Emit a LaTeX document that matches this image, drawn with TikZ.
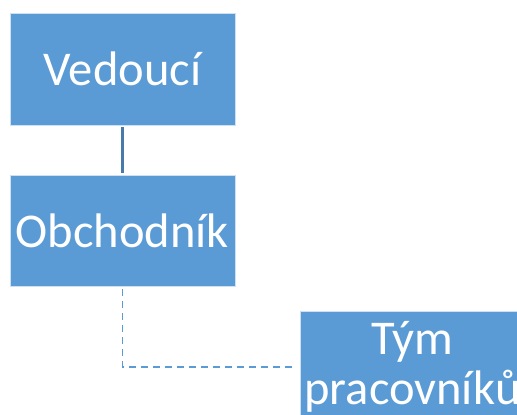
\documentclass[tikz,border=0pt]{standalone}
\usepackage{fontspec}
\setmainfont{Carlito}
\begin{document}
\begin{tikzpicture}[x=1pt,y=1pt,
  orgbox/.style={draw=white!70!orgblue, line width=0.6pt, fill=orgblue,
    minimum width=225pt, minimum height=112pt, inner sep=0pt,
    text=white, font=\fontsize{48.5}{50}\selectfont, align=center},
  solidlink/.style={draw=linkblue, line width=2.4pt, shorten >=2pt, shorten <=2pt},
  dashlink/.style={draw=orgblue, line width=1.6pt, dash pattern=on 7pt off 5pt,
    shorten >=4pt, shorten <=3pt}]
  \definecolor{orgblue}{RGB}{91,155,213}
  \definecolor{linkblue}{RGB}{72,122,170}
  \useasboundingbox (0,0) rectangle (517,415);
  \clip (0,0) rectangle (517,415);
  % hierarchy boxes
  \node[orgbox] (vedouci) at (122.5,346) {Vedoucí};
  \node[orgbox, minimum height=111pt] (obchodnik) at (122.5,184.5) {Obchodník};
  \node[orgbox, text width=225pt] (tym) at (412.5,48) {Tým\\pracovníků};
  % connectors
  \draw[solidlink] (vedouci.south) -- (obchodnik.north);
  \draw[dashlink] (obchodnik.south) |- (tym.west);
\end{tikzpicture}
\end{document}
